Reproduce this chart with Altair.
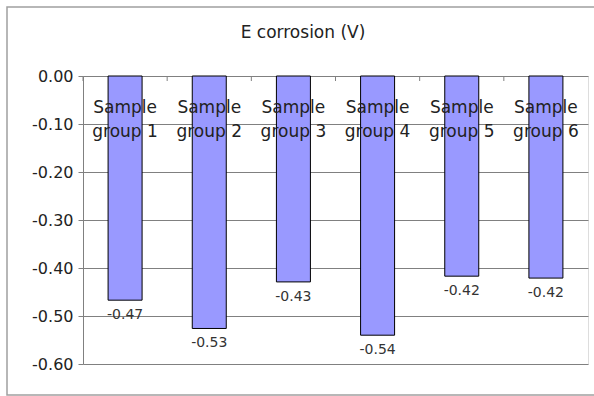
import altair as alt
import pandas as pd

categories = ["Sample group 1", "Sample group 2", "Sample group 3",
              "Sample group 4", "Sample group 5", "Sample group 6"]
values = [-0.467, -0.526, -0.429, -0.540, -0.417, -0.421]
y_ticks = [0.0, -0.1, -0.2, -0.3, -0.4, -0.5, -0.6]

df = pd.DataFrame({
    "cat": categories,
    "val": values,
    "lab": [c.replace(" group", "\ngroup") for c in categories],
    "vtxt": [f"{v:.2f}" for v in values],
})

FONT = "DejaVu Sans"
xenc = alt.X("cat:N", sort=categories, axis=None,
             scale=alt.Scale(paddingInner=0, paddingOuter=0))
yscale = alt.Scale(domain=[-0.6, 0], nice=False, zero=False)

base = alt.Chart(df)

bars = base.mark_bar(color="#9999FF", stroke="#000000", strokeWidth=1, size=34).encode(
    x=xenc,
    y=alt.Y("val:Q", scale=yscale,
            axis=alt.Axis(values=y_ticks, title=None,
                          labelExpr="replace(format(datum.value, '.2f'), '\u2212', '-')",
                          grid=True, gridColor="#808080", gridWidth=1,
                          domainColor="#808080", tickColor="#808080", tickSize=5,
                          labelFont=FONT, labelFontSize=16, labelColor="#222222",
                          labelPadding=5)),
    y2=alt.datum(0),
)

values_text = base.mark_text(font=FONT, fontSize=14, color="#333333",
                             baseline="top", dy=8).encode(
    x=xenc,
    y=alt.Y("val:Q", scale=yscale),
    text="vtxt:N",
)

cat_text = base.mark_text(font=FONT, fontSize=17, color="#222222",
                          baseline="middle", lineBreak="\n", lineHeight=24).encode(
    x=xenc,
    y=alt.value(32),
    text="lab:N",
)

ticks = base.mark_rule(color="#808080").encode(
    x=alt.X("cat:N", sort=categories, bandPosition=0, axis=None,
            scale=alt.Scale(paddingInner=0, paddingOuter=0)),
    y=alt.value(0),
    y2=alt.value(5),
)

onerow = pd.DataFrame({"t": ["E corrosion (V)"]})

title = alt.Chart(onerow).mark_text(font=FONT, fontSize=17, color="#222222",
                                    baseline="middle", align="center").encode(
    x=alt.value(220), y=alt.value(-43), text="t:N",
)

frame = alt.Chart(onerow).mark_rect(
    fill=None, stroke="#A0A0A0", strokeWidth=1.5
).encode(
    x=alt.value(-76), x2=alt.value(530),
    y=alt.value(-69), y2=alt.value(319),
)

chart = alt.layer(frame, ticks, bars, values_text, cat_text, title).properties(
    width=505, height=288,
    autosize=alt.AutoSizeParams(type="none"),
    padding={"left": 83, "top": 76, "right": 6, "bottom": 32},
).configure_view(stroke="#808080", strokeWidth=1).configure(background="white")

chart.save("out.html", embed_options={"renderer": "svg", "actions": False})
